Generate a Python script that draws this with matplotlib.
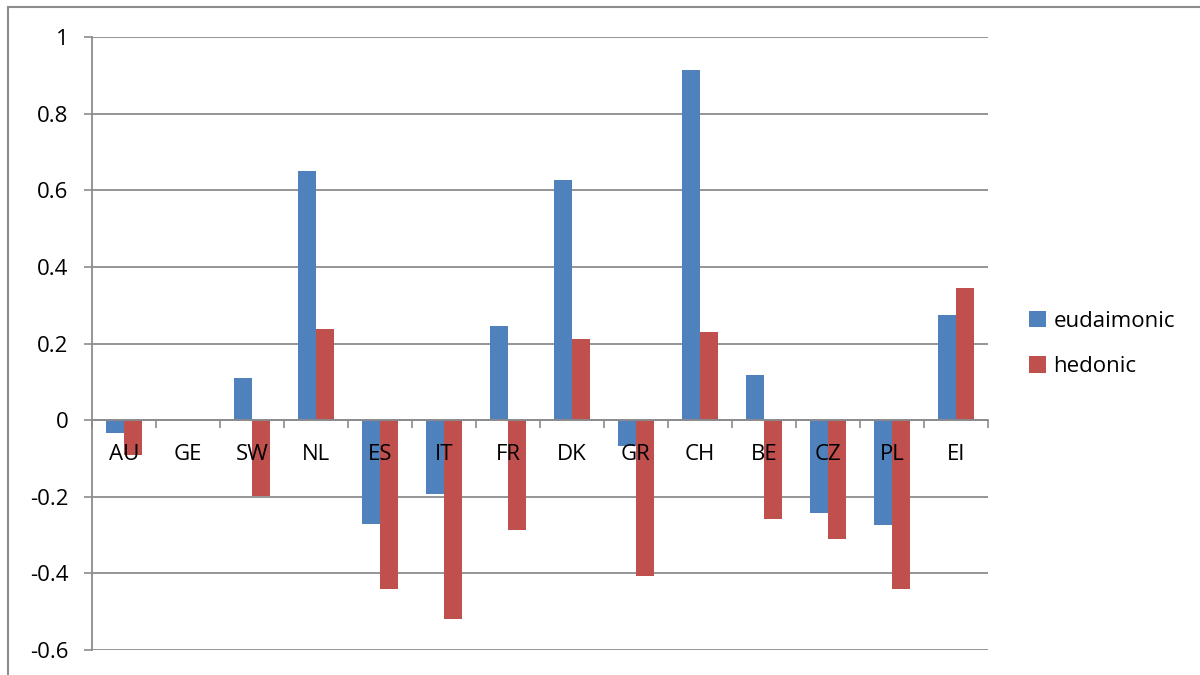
import matplotlib
matplotlib.use("Agg")
import matplotlib.pyplot as plt
from matplotlib.lines import Line2D
import numpy as np

plt.rcParams['font.family'] = ['Open Sans', 'DejaVu Sans']

countries = ["AU", "GE", "SW", "NL", "ES", "IT", "FR", "DK", "GR", "CH", "BE", "CZ", "PL", "EI"]
eudaimonic = [-0.033, 0.0, 0.110, 0.651, -0.270, -0.194, 0.245, 0.627, -0.067, 0.914, 0.117, -0.243, -0.274, 0.274]
hedonic = [-0.090, 0.0, -0.197, 0.238, -0.440, -0.520, -0.287, 0.212, -0.407, 0.230, -0.258, -0.311, -0.440, 0.345]
y_ticks = [1, 0.8, 0.6, 0.4, 0.2, 0, -0.2, -0.4, -0.6]

BLUE = "#4F81BD"
RED = "#C0504D"
GRID = "#8C8C8C"

fig = plt.figure(figsize=(12, 6.75), dpi=100)
ax = fig.add_axes([92 / 1200, 25 / 675, 896 / 1200, 613 / 675])

x = np.arange(len(countries))
w = 0.28
# bars sit above the gridlines but below the axis labels
ax.bar(x - w / 2, eudaimonic, width=w, color=BLUE, label="eudaimonic", zorder=1)
ax.bar(x + w / 2, hedonic, width=w, color=RED, label="hedonic", zorder=1)

for v in y_ticks:
    ax.axhline(v, color=GRID, linewidth=1.3, zorder=0.5)

ax.set_xlim(-0.5, len(countries) - 0.5)
ax.set_ylim(-0.6, 1.0)
ax.set_yticks(y_ticks)
ax.set_yticklabels([f"{v:g}" for v in y_ticks], fontsize=16)
ax.tick_params(axis='y', length=6, width=1.2, color=GRID, pad=11)

# category axis runs through zero
ax.spines['bottom'].set_position(('data', 0))
ax.spines['bottom'].set_color(GRID)
ax.spines['bottom'].set_linewidth(1.3)
ax.spines['left'].set_color(GRID)
ax.spines['left'].set_linewidth(1.3)
ax.spines['top'].set_visible(False)
ax.spines['right'].set_visible(False)

ax.set_xticks(x)
ax.set_xticklabels(countries, fontsize=16)
ax.tick_params(axis='x', which='major', length=0, pad=17)
ax.set_xticks(np.arange(len(countries) + 1) - 0.5, minor=True)
ax.tick_params(axis='x', which='minor', length=6, width=1.2, color=GRID, direction='out')
ax.xaxis.set_zorder(3)
ax.yaxis.set_zorder(3)

fig.legend(loc='upper left', bbox_to_anchor=(1020 / 1200, 1 - 302 / 675),
           frameon=False, fontsize=16, handlelength=0.75, handleheight=0.75,
           handletextpad=0.35, labelspacing=1.1, borderaxespad=0)

# chart area border
fig.add_artist(Line2D([8 / 1200, 8 / 1200], [0, 1 - 7 / 675], transform=fig.transFigure,
                      color=GRID, linewidth=1.5))
fig.add_artist(Line2D([8 / 1200, 1], [1 - 7 / 675, 1 - 7 / 675], transform=fig.transFigure,
                      color=GRID, linewidth=1.5))

fig.savefig("out.png", dpi=100)
